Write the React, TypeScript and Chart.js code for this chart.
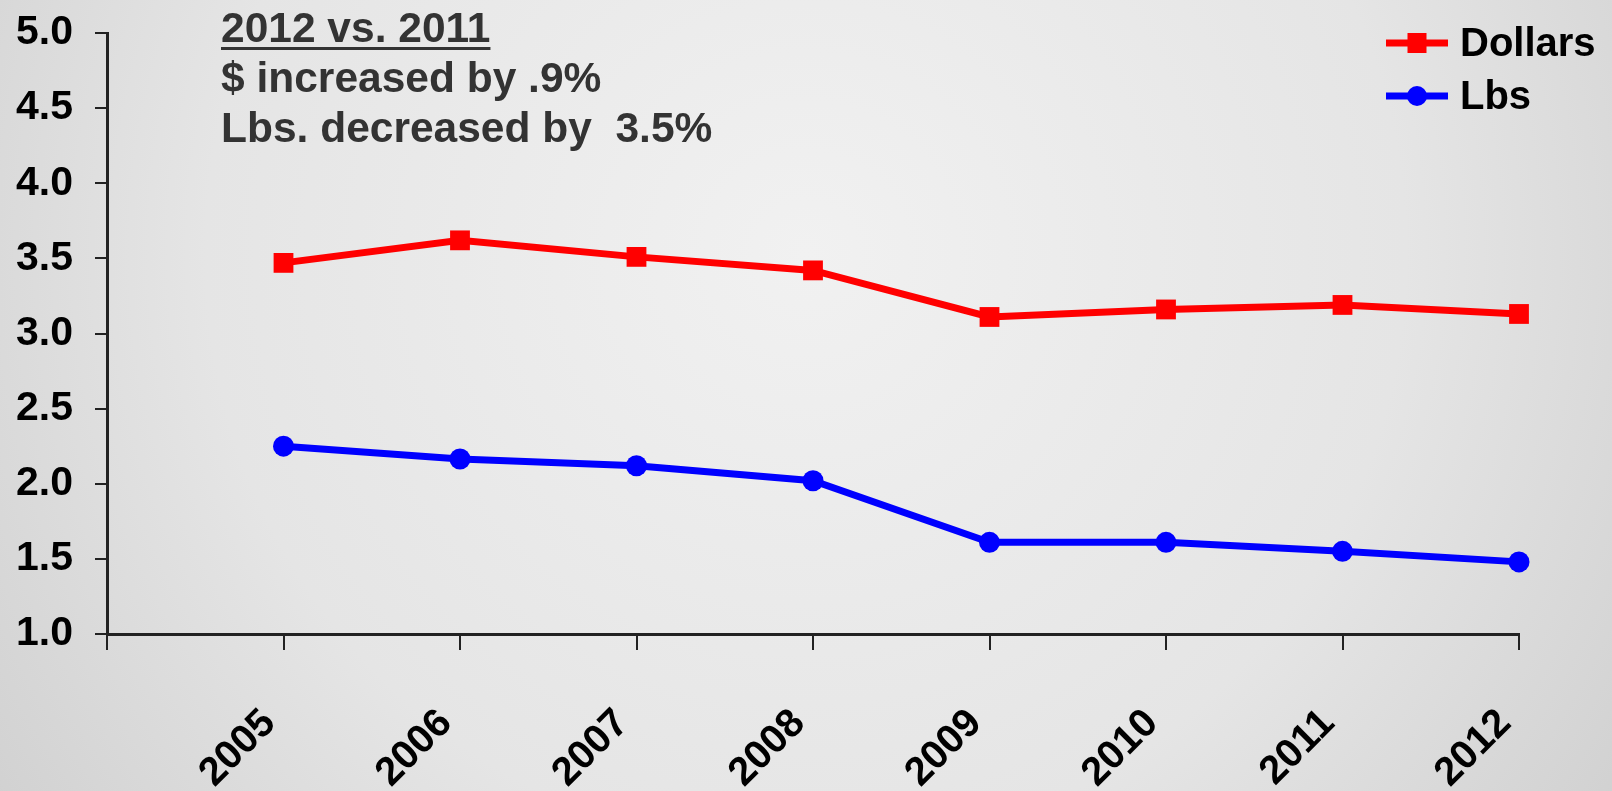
import React, { useEffect, useRef } from "react";
import { Chart, registerables } from "chart.js";

Chart.register(...registerables);

const years = ["2005", "2006", "2007", "2008", "2009", "2010", "2011", "2012"];
const dollars = [3.47, 3.62, 3.51, 3.42, 3.11, 3.16, 3.19, 3.13];
const lbs = [2.25, 2.165, 2.12, 2.02, 1.61, 1.61, 1.55, 1.48];
const seriesNames = ["Dollars", "Lbs"];
const noteLines = ["2012 vs. 2011", "$ increased by .9%", "Lbs. decreased by  3.5%"];

const FONT = "'Liberation Sans', Arial, Helvetica, sans-serif";
const RED = "#ff0000";
const BLUE = "#0000ff";

const bgPlugin = {
  id: "bg",
  beforeDraw(chart: any) {
    const { ctx, width, height } = chart;
    ctx.save();
    const g = ctx.createRadialGradient(width * 0.5, height * 0.32, 0, width * 0.5, height * 0.32, width * 0.62);
    g.addColorStop(0, "#f1f1f1");
    g.addColorStop(0.6, "#e5e5e5");
    g.addColorStop(1, "#d0d0d0");
    ctx.fillStyle = g;
    ctx.fillRect(0, 0, width, height);
    ctx.restore();
  },
};

const notePlugin = {
  id: "note",
  afterDraw(chart: any) {
    const ctx = chart.ctx;
    ctx.save();
    ctx.font = `bold 42.5px ${FONT}`;
    ctx.fillStyle = "#333333";
    ctx.textAlign = "left";
    ctx.textBaseline = "alphabetic";
    const x = 221;
    const baselines = [42, 92, 142];
    noteLines.forEach((t, i) => ctx.fillText(t, x, baselines[i]));
    const w = ctx.measureText(noteLines[0]).width;
    ctx.fillRect(x, 47, w, 3);
    ctx.restore();
  },
};

const legendPlugin = {
  id: "customLegend",
  afterDraw(chart: any) {
    const ctx = chart.ctx;
    ctx.save();
    const rows = [
      { name: seriesNames[0], color: RED, style: "rect", y: 43 },
      { name: seriesNames[1], color: BLUE, style: "circle", y: 96 },
    ];
    rows.forEach((r) => {
      ctx.strokeStyle = r.color;
      ctx.fillStyle = r.color;
      ctx.lineWidth = 7;
      ctx.beginPath();
      ctx.moveTo(1386, r.y);
      ctx.lineTo(1448, r.y);
      ctx.stroke();
      if (r.style === "rect") {
        ctx.fillRect(1417 - 9.5, r.y - 10, 19, 20);
      } else {
        ctx.beginPath();
        ctx.arc(1417, r.y, 10, 0, Math.PI * 2);
        ctx.fill();
      }
      ctx.fillStyle = "#000";
      ctx.font = `bold 40px ${FONT}`;
      ctx.textAlign = "left";
      ctx.textBaseline = "middle";
      ctx.fillText(r.name, 1460, r.y + 2);
    });
    ctx.restore();
  },
};

export default function App() {
  const ref = useRef<HTMLCanvasElement>(null);
  useEffect(() => {
    document.body.style.margin = "0";
    document.body.style.overflow = "hidden";
    const canvas = ref.current!;
    const chart = new Chart(canvas, {
      type: "line",
      data: {
        labels: ["", ...years],
        datasets: [
          {
            label: seriesNames[0],
            data: [null, ...dollars],
            borderColor: RED,
            backgroundColor: RED,
            borderWidth: 7,
            pointStyle: "rect",
            pointRadius: 14,
            pointBorderWidth: 0,
            tension: 0,
            clip: false,
          } as any,
          {
            label: seriesNames[1],
            data: [null, ...lbs],
            borderColor: BLUE,
            backgroundColor: BLUE,
            borderWidth: 7,
            pointStyle: "circle",
            pointRadius: 10.5,
            pointBorderWidth: 0,
            tension: 0,
            clip: false,
          } as any,
        ],
      },
      options: {
        responsive: false,
        animation: false,
        events: [],
        layout: { padding: { left: 0, right: 93, top: 33, bottom: 0 } },
        plugins: {
          legend: { display: false },
          tooltip: { enabled: false },
        },
        scales: {
          x: {
            type: "category",
            offset: false,
            grid: {
              drawOnChartArea: false,
              drawTicks: true,
              tickLength: 16,
              color: "#222",
              lineWidth: 2,
            },
            border: { display: true, color: "#222", width: 3 },
            ticks: {
              autoSkip: false,
              minRotation: 45,
              maxRotation: 45,
              padding: 50,
              labelOffset: -14,
              color: "#000",
              font: { family: FONT, size: 40, weight: "bold" },
            },
            afterFit: (s: any) => {
              s.height = 157;
              s.paddingLeft = 0;
              s.paddingRight = 0;
            },
          },
          y: {
            min: 1,
            max: 5,
            grid: {
              drawOnChartArea: false,
              drawTicks: true,
              tickLength: 12,
              color: "#222",
              lineWidth: 2,
            },
            border: { display: true, color: "#222", width: 3 },
            ticks: {
              stepSize: 0.5,
              padding: 22,
              color: "#000",
              font: { family: FONT, size: 41, weight: "bold" },
              callback: (v: any) => Number(v).toFixed(1),
            },
            afterFit: (s: any) => {
              s.width = 107;
              s.paddingTop = 0;
              s.paddingBottom = 0;
            },
          },
        },
      },
      plugins: [bgPlugin, notePlugin, legendPlugin],
    });
    return () => chart.destroy();
  }, []);
  return <canvas ref={ref} width={1612} height={791} style={{ display: "block" }} />;
}
